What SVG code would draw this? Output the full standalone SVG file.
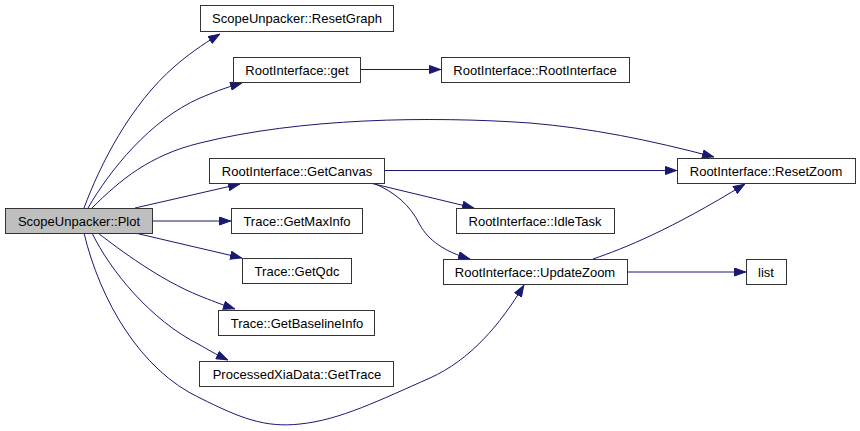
<svg xmlns="http://www.w3.org/2000/svg" width="860" height="431" viewBox="0 0 860 431">
<defs>
<style>
.n rect{fill:#fff;stroke:#333;stroke-width:1}
.n text{font-family:"Liberation Sans",Arial,sans-serif;font-size:13px;fill:#000;text-anchor:middle}
.e path{fill:none;stroke:#191970;stroke-width:1}
</style>
<marker id="a" viewBox="0 0 12 9" refX="12" refY="4.5" markerWidth="12" markerHeight="9" markerUnits="userSpaceOnUse" orient="auto">
<path d="M0.5,0.5 L11.5,4.5 L0.5,8.5 Z" fill="#191970" stroke="#191970"/>
</marker>
</defs>
<rect width="860" height="431" fill="#fff"/>
<g class="e" id="edges">
<path marker-end="url(#a)" d="M84,208 C100,165 130,105 175,66 C188,55 200,46 220,34"/>
<path marker-end="url(#a)" d="M88,208 C110,170 150,120 200,98 C212,93 224,88 242,83"/>
<path marker-end="url(#a)" d="M92,208 C120,180 150,155 200,143 C300,118 430,116 530,123 C590,128 650,140 714,157"/>
<path marker-end="url(#a)" d="M135,208 L240,184"/>
<path marker-end="url(#a)" d="M152,221 L231,221"/>
<path marker-end="url(#a)" d="M135,233 L242,258"/>
<path marker-end="url(#a)" d="M98,233 C120,250 160,280 200,296 C210,300 220,304 235,309"/>
<path marker-end="url(#a)" d="M92,233 C110,270 150,320 200,345 C207,349 215,354 228,360"/>
<path marker-end="url(#a)" d="M84,233 C100,300 140,370 200,398 C240,418 265,428 300,424 C340,420 380,400 430,378 C470,360 500,325 524,285"/>
<path marker-end="url(#a)" d="M360,69.5 L441,69.5"/>
<path marker-end="url(#a)" d="M384,170.5 L677,170.5"/>
<path marker-end="url(#a)" d="M370,183 L474,208"/>
<path marker-end="url(#a)" d="M373,183 C395,192 410,205 420,225 C428,240 445,252 470,259"/>
<path marker-end="url(#a)" d="M593,259 C625,248 670,230 745,184"/>
<path marker-end="url(#a)" d="M627,272 L746,272"/>
</g>
<g class="n" id="plot"><rect x="5.5" y="208.5" width="147" height="25" style="fill:#bfbfbf"/><text x="79" y="225.5">ScopeUnpacker::Plot</text></g>
<g class="n" id="resetgraph"><rect x="200.5" y="5.5" width="193" height="26"/><text x="297" y="23">ScopeUnpacker::ResetGraph</text></g>
<g class="n" id="get"><rect x="233.5" y="57.5" width="127" height="25"/><text x="297" y="74.5">RootInterface::get</text></g>
<g class="n" id="rootinterface"><rect x="441.5" y="57.5" width="188" height="25"/><text x="535" y="74.5">RootInterface::RootInterface</text></g>
<g class="n" id="getcanvas"><rect x="209.5" y="158.5" width="175" height="25"/><text x="297" y="175.5">RootInterface::GetCanvas</text></g>
<g class="n" id="resetzoom"><rect x="677.5" y="158.5" width="178" height="25"/><text x="766" y="175.5">RootInterface::ResetZoom</text></g>
<g class="n" id="getmaxinfo"><rect x="231.5" y="208.5" width="131" height="25"/><text x="297" y="225.5">Trace::GetMaxInfo</text></g>
<g class="n" id="idletask"><rect x="456.5" y="208.5" width="158" height="25"/><text x="535" y="225.5">RootInterface::IdleTask</text></g>
<g class="n" id="getqdc"><rect x="242.5" y="258.5" width="109" height="25"/><text x="297" y="275.5">Trace::GetQdc</text></g>
<g class="n" id="updatezoom"><rect x="443.5" y="259.5" width="184" height="25"/><text x="535" y="276.5">RootInterface::UpdateZoom</text></g>
<g class="n" id="list"><rect x="746.5" y="259.5" width="40" height="25"/><text x="766" y="276.5">list</text></g>
<g class="n" id="getbaselineinfo"><rect x="218.5" y="310.5" width="156" height="25"/><text x="297" y="327.5">Trace::GetBaselineInfo</text></g>
<g class="n" id="gettrace"><rect x="199.5" y="361.5" width="194" height="25"/><text x="297" y="378.5">ProcessedXiaData::GetTrace</text></g>
</svg>
